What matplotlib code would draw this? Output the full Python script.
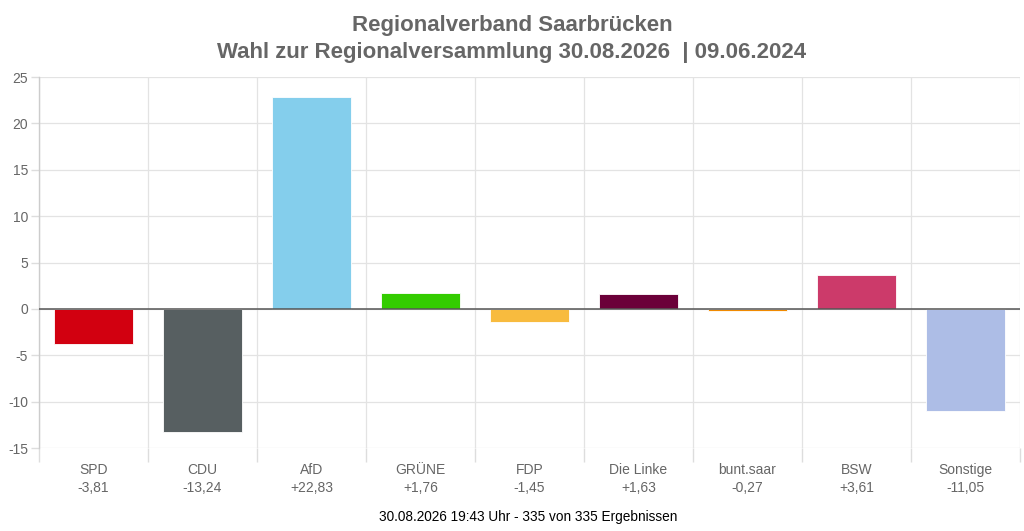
import numpy as np
import matplotlib.pyplot as plt
from matplotlib.ticker import FixedLocator

parties = ["SPD", "CDU", "AfD", "GRÜNE", "FDP", "Die Linke", "bunt.saar", "BSW", "Sonstige"]
changes = [-3.81, -13.24, 22.83, 1.76, -1.45, 1.63, -0.27, 3.61, -11.05]
colors = ["#d20010", "#575f61", "#84ceec", "#33cc00", "#f8bb3e",
          "#6b0039", "#f08a00", "#cc3a6a", "#adbde6"]
title = "Regionalverband Saarbrücken\nWahl zur Regionalversammlung 30.08.2026  | 09.06.2024"
footer = "30.08.2026 19:43 Uhr - 335 von 335 Ergebnissen"

plt.rcParams['font.family'] = ['Liberation Sans', 'DejaVu Sans']
plt.rcParams['axes.unicode_minus'] = False

fig = plt.figure(figsize=(10.24, 5.31), dpi=100)
ax = fig.add_axes([39 / 1024, 1 - 448 / 531, 981 / 1024, 371 / 531])

x = np.arange(len(parties))
ax.bar(x, changes, width=0.72, color=colors, edgecolor="white", linewidth=0.6, zorder=3)
ax.axhline(0, color="#555555", linewidth=1.1, zorder=4)

ax.set_xlim(-0.5, len(parties) - 0.5)
ax.set_ylim(-15, 25)
ax.set_yticks(np.arange(-15, 26, 5))

# labels with value below name
labels = []
for p, v in zip(parties, changes):
    s = f"{v:+.2f}".replace(".", ",")
    labels.append(f"{p}\n{s}")
ax.set_xticks(x)
ax.set_xticklabels(labels, color="#666666", fontsize=10, linespacing=1.3)
ax.xaxis.set_minor_locator(FixedLocator(np.arange(-0.5, len(parties), 1.0)))
ax.tick_params(axis="x", which="major", length=0, pad=11)
ax.tick_params(axis="x", which="minor", length=10, color="#dddddd", width=1)
ax.tick_params(axis="y", length=6, color="#dddddd", width=1, labelsize=10,
               labelcolor="#666666", pad=2)

ax.grid(True, axis="y", color="#e3e3e3", linewidth=0.9, zorder=0)
ax.grid(True, axis="x", which="minor", color="#e3e3e3", linewidth=0.9, zorder=0)
ax.grid(False, axis="x", which="major")
ax.set_axisbelow(True)

for side in ["top", "right", "bottom"]:
    ax.spines[side].set_visible(False)
ax.spines["left"].set_color("#cccccc")
ax.spines["left"].set_linewidth(1)

fig.text(0.5, 1 - 39 / 531, title, ha="center", va="center", fontsize=16,
         fontweight="bold", color="#666666", linespacing=1.4)
fig.text(528 / 1024, 1 - 517 / 531, footer, ha="center", va="center", fontsize=9.8, color="black")

fig.savefig("out.png", dpi=100)
